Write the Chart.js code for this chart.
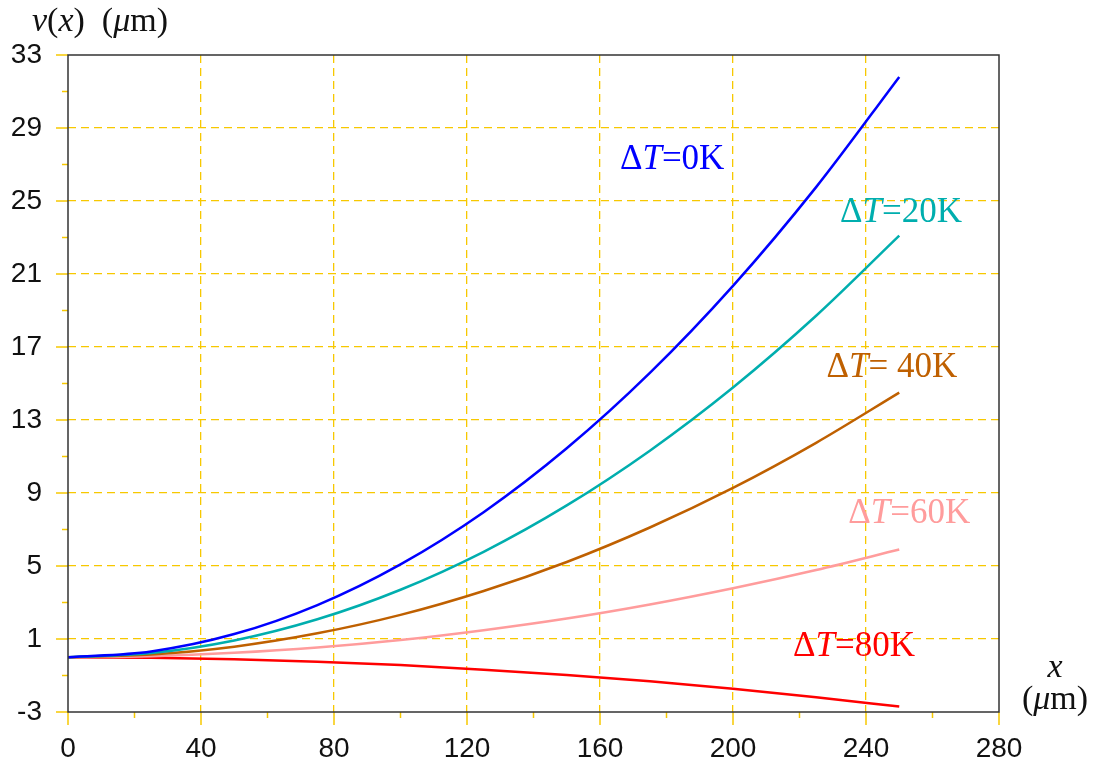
<!DOCTYPE html>
<html>
<head>
<meta charset="utf-8">
<script src="https://cdn.jsdelivr.net/npm/chart.js@4.4.1/dist/chart.umd.min.js"></script>
<style>
  html, body { margin: 0; background: #fff; }
</style>
</head>
<body>
<canvas id="chart" width="1094" height="765"></canvas>
<script>
// x positions (µm)
const xs = [0, 25, 50, 75, 100, 125, 150, 175, 200, 225, 250];

// deflection ν(x) in µm for each temperature difference
const dT0  = [0, 0.32, 1.27, 2.86, 5.09, 7.95, 11.45, 15.58, 20.35, 25.76, 31.8];
const dT20 = [0, 0.23, 0.92, 2.08, 3.70, 5.78, 8.32, 11.32, 14.78, 18.71, 23.1];
const dT40 = [0, 0.15, 0.58, 1.31, 2.32, 3.63, 5.22, 7.11, 9.28, 11.75, 14.5];
const dT60 = [0, 0.06, 0.24, 0.53, 0.94, 1.48, 2.12, 2.89, 3.78, 4.78, 5.9];
const dT80 = [0, -0.03, -0.11, -0.24, -0.43, -0.68, -0.97, -1.32, -1.73, -2.19, -2.7];

const seriesData = [dT0, dT20, dT40, dT60, dT80];
const seriesLabels = ["0K", "20K", " 40K", "60K", "80K"];
const seriesColors = ["#0000ff", "#00aeae", "#bf6000", "#ff9c9c", "#ff0000"];

// where the curve labels sit, in data units
const labelX = [181.7, 250.5, 247.8, 253, 236.4];
const labelY = [27.4, 24.5, 16.0, 8.0, 0.7];

const gold = "#f7c800";
const serif = "'Liberation Serif', 'DejaVu Serif', serif";
const sans = "'Liberation Sans', Arial, sans-serif";

// draws a run of text pieces, some of them italic
function drawRich(ctx, parts, x, y, size, color, align) {
  ctx.fillStyle = color;
  ctx.textBaseline = "alphabetic";
  ctx.textAlign = "left";
  let total = 0;
  parts.forEach(p => {
    ctx.font = (p[1] ? "italic " : "") + size + "px " + serif;
    total += ctx.measureText(p[0]).width;
  });
  let cx = align === "center" ? x - total / 2 : x;
  parts.forEach(p => {
    ctx.font = (p[1] ? "italic " : "") + size + "px " + serif;
    ctx.fillText(p[0], cx, y);
    cx += ctx.measureText(p[0]).width;
  });
}

const decor = {
  id: "decor",
  afterDraw(chart) {
    const ctx = chart.ctx;
    const area = chart.chartArea;
    const xs_ = chart.scales.x;
    const ys_ = chart.scales.y;
    ctx.save();

    // tick marks
    ctx.strokeStyle = gold;
    ctx.lineWidth = 1.5;
    ys_.ticks.forEach(t => {
      const y = ys_.getPixelForValue(t.value);
      const major = (t.value + 3) % 4 === 0;
      ctx.beginPath();
      ctx.moveTo(area.left - (major ? 12 : 6), y);
      ctx.lineTo(area.left, y);
      ctx.stroke();
    });
    xs_.ticks.forEach(t => {
      const x = xs_.getPixelForValue(t.value);
      const major = t.value % 40 === 0;
      ctx.beginPath();
      ctx.moveTo(x, area.bottom);
      ctx.lineTo(x, area.bottom + (major ? 13 : 6));
      ctx.stroke();
    });

    // box
    ctx.strokeStyle = "#333";
    ctx.lineWidth = 1.5;
    ctx.strokeRect(area.left, area.top, area.right - area.left, area.bottom - area.top);

    // curve labels
    seriesLabels.forEach((lab, i) => {
      const px = xs_.getPixelForValue(labelX[i]);
      const py = ys_.getPixelForValue(labelY[i]) + 12;
      drawRich(ctx, [["Δ", false], ["T", true], ["=" + lab, false]], px, py, 35, seriesColors[i], "center");
    });

    // axis titles
    drawRich(ctx, [["ν", true], ["(", false], ["x", true], [")  (", false], ["μ", true], ["m)", false]], 32, 31, 34, "#111", "left");
    drawRich(ctx, [["x", true]], 1055, 677, 34, "#111", "center");
    drawRich(ctx, [["(", false], ["μ", true], ["m)", false]], 1055, 709, 34, "#111", "center");

    ctx.restore();
  }
};

new Chart(document.getElementById("chart"), {
  type: "line",
  data: {
    datasets: seriesData.map((d, i) => ({
      label: seriesLabels[i],
      data: d.map((v, k) => ({ x: xs[k], y: v })),
      borderColor: seriesColors[i],
      borderWidth: 2.5,
      pointRadius: 0,
      fill: false,
      cubicInterpolationMode: "monotone"
    }))
  },
  options: {
    responsive: false,
    animation: false,
    devicePixelRatio: 1,
    layout: { padding: { top: 55, right: 95, left: 0, bottom: 0 } },
    plugins: { legend: { display: false }, tooltip: { enabled: false } },
    scales: {
      x: {
        type: "linear",
        min: 0,
        max: 280,
        afterFit: s => { s.height = 53; },
        ticks: {
          stepSize: 20,
          autoSkip: false,
          maxRotation: 0,
          padding: 20,
          color: "#111",
          font: { family: sans, size: 28 },
          callback: v => (v % 40 === 0 ? v : "")
        },
        grid: {
          drawTicks: false,
          lineWidth: 1.3,
          color: c => (c.tick && c.tick.value % 40 === 0 && c.tick.value > 0 && c.tick.value < 280 ? gold : "rgba(0,0,0,0)")
        },
        border: { display: false, dash: [8, 5] }
      },
      y: {
        min: -3,
        max: 33,
        afterFit: s => { s.width = 68; },
        ticks: {
          stepSize: 2,
          autoSkip: false,
          padding: 26,
          color: "#111",
          font: { family: sans, size: 28 },
          callback: v => ((v + 3) % 4 === 0 ? v : "")
        },
        grid: {
          drawTicks: false,
          lineWidth: 1.3,
          color: c => (c.tick && (c.tick.value + 3) % 4 === 0 && c.tick.value > -3 && c.tick.value < 33 ? gold : "rgba(0,0,0,0)")
        },
        border: { display: false, dash: [8, 5] }
      }
    }
  },
  plugins: [decor]
});
</script>
</body>
</html>
